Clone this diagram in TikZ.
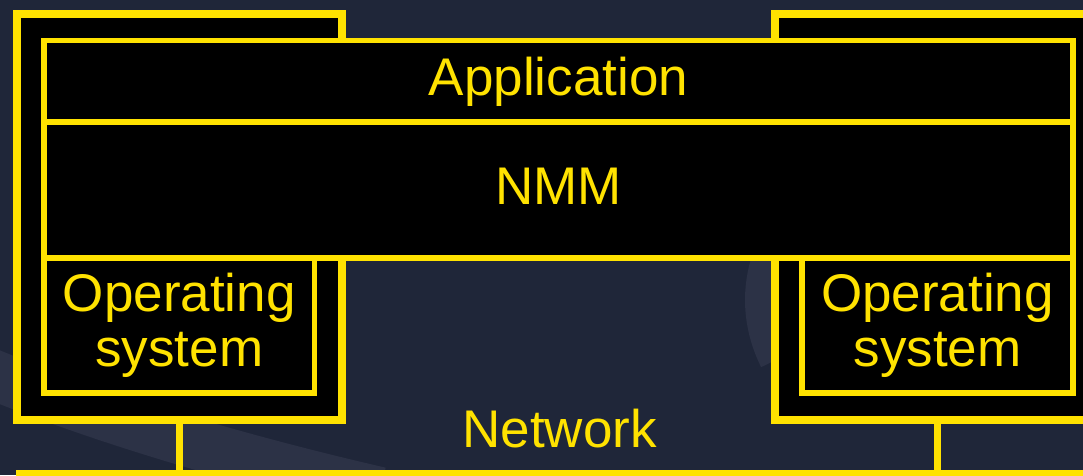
\documentclass[tikz,border=0pt]{standalone}
\usepackage{fontspec}
\setmainfont{Liberation Sans}
\definecolor{bgnavy}{HTML}{1F2639}
\definecolor{bgband}{HTML}{2C3246}
\definecolor{ylw}{HTML}{FFE200}
\begin{document}
\begin{tikzpicture}[x=1pt,y=-1pt,
  outerbox/.style={draw=ylw,fill=black,line width=8pt,rectangle,inner sep=0pt},
  layerbox/.style={draw=ylw,fill=black,line width=5.5pt,rectangle,inner sep=0pt,
    text=ylw,font=\fontsize{53}{55}\selectfont,align=center},
  label/.style={text=ylw,font=\fontsize{53}{55}\selectfont,inner sep=0pt},
  wire/.style={draw=ylw,line width=7.5pt}]
% background
\fill[bgnavy] (0,0) rectangle (1083,475);
\useasboundingbox (0,0) rectangle (1083,475);
\begin{scope}
\clip (0,0) rectangle (1083,475);
\draw[bgband,line width=50pt] (-30,365) .. controls (100,420) and (250,462) .. (380,492);
\draw[bgband,line width=38pt] (1000,300) ++(160:236 and 172) arc[start angle=160,end angle=255,x radius=236,y radius=172];
\end{scope}
% computers
\node[outerbox,minimum width=325pt,minimum height=406pt] (outerL) at (179.5,217) {};
\node[outerbox,minimum width=325pt,minimum height=406pt] (outerR) at (937.5,217) {};
% layers
\node[layerbox,minimum width=1029pt,minimum height=81.5pt,text height=39pt,text depth=11pt] (app) at (558.5,81.25) {Application};
\node[layerbox,minimum width=1029pt,minimum height=136pt,text height=39pt,text depth=11pt] (nmm) at (558.5,190) {NMM};
\node[layerbox,minimum width=270.5pt,minimum height=135pt] (osL) at (179.25,325.5) {Operating\\system};
\node[layerbox,minimum width=271pt,minimum height=135pt] (osR) at (937.5,325.5) {Operating\\system};
% network
\coordinate (netW) at (16,474);
\coordinate (netE) at (1100,474);
\coordinate (tapL) at (179.5,474);
\coordinate (tapR) at (937.5,474);
\draw[wire] (outerL.south) -- (tapL);
\draw[wire] (outerR.south) -- (tapR);
\draw[ylw,line width=8pt] (netW) -- (netE);
\node[label,anchor=base] (net) at (559.5,447) {Network};
\end{tikzpicture}
\end{document}
